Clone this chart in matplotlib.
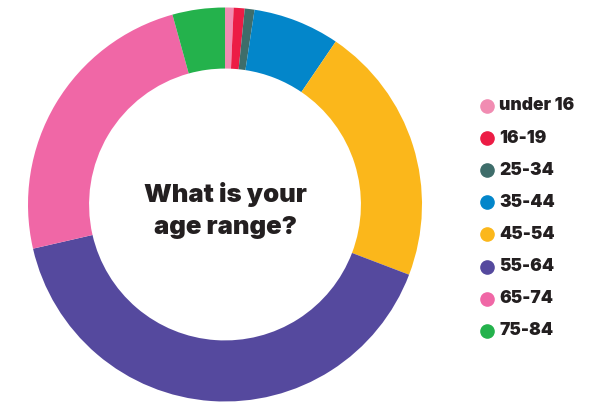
import matplotlib.pyplot as plt

# Survey answers, share of respondents (%), clockwise from 12 o'clock
age_ranges = ["under 16", "16-19", "25-34", "35-44", "45-54", "55-64", "65-74", "75-84"]
shares = [0.7, 0.9, 0.8, 7.1, 21.3, 40.6, 24.3, 4.3]
colors = ["#F18CB2", "#EC1C45", "#3E6D6A", "#0386CA", "#FBB71B", "#55499E", "#F067A6", "#24B24C"]
question = "What is your\nage range?"

W, H = 608, 403
fig = plt.figure(figsize=(W / 100, H / 100), dpi=100)

# donut axes: centre (225, 204.5) px, outer radius 197 px
cx, cy, r = 225, 204.5, 197
ax = fig.add_axes([(cx - r) / W, (H - cy - r) / H, 2 * r / W, 2 * r / H])
ax.pie(
    shares,
    colors=colors,
    startangle=90,
    counterclock=False,
    radius=1.0,
    wedgeprops={"width": 0.31, "linewidth": 0},
)
ax.set_xlim(-1, 1)
ax.set_ylim(-1, 1)
ax.set_aspect("equal")
ax.axis("off")

ax.text(0, -0.03, question, ha="center", va="center", fontsize=18.5,
        fontweight="black", family="Inter", color="#231F20", linespacing=1.5)

# legend: coloured dot + label, one row per age range
for i, (label, color) in enumerate(zip(age_ranges, colors)):
    y = 1 - (106 + 32.1 * i) / H
    fig.lines.append(plt.Line2D([487 / W], [y], marker="o", markersize=9.5,
                                color=color, linestyle="", transform=fig.transFigure))
    fig.text(499 / W, y, label, ha="left", va="center", fontsize=12.5,
             fontweight="black", family="Inter", color="#231F20")

fig.savefig("out.png", dpi=100, facecolor="white")
